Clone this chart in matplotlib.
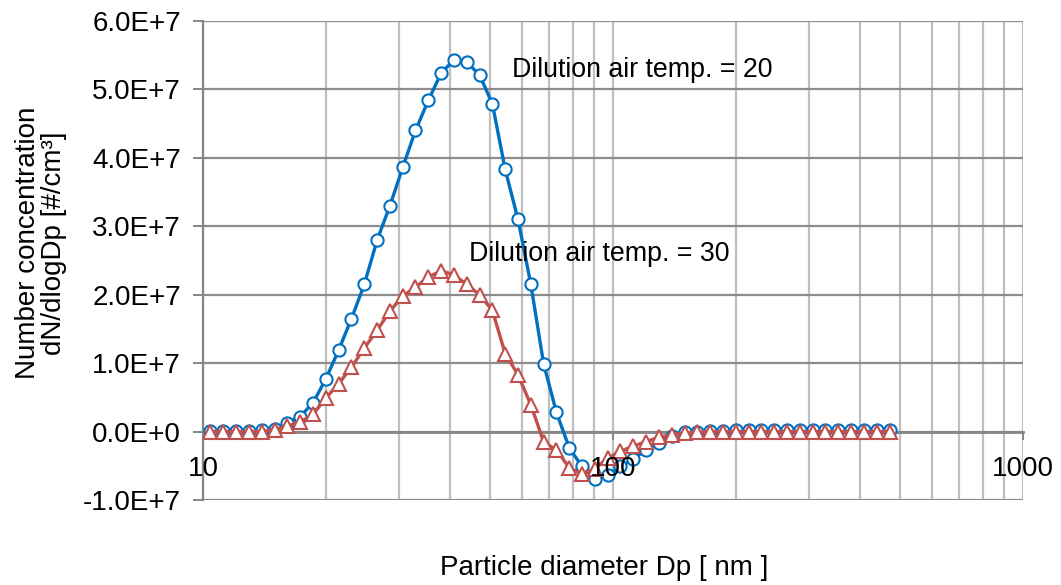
import matplotlib
matplotlib.use("Agg")
import matplotlib.pyplot as plt
import numpy as np
from matplotlib.ticker import FixedLocator, FuncFormatter, NullFormatter, LogLocator

plt.rcParams['font.family'] = ['Liberation Sans', 'DejaVu Sans']

# Particle diameter bins [nm]
diameter_nm = [10.43, 11.21, 12.04, 12.94, 13.91, 14.95, 16.06, 17.26, 18.55, 19.94,
               21.42, 23.02, 24.74, 26.59, 28.57, 30.70, 32.98, 35.45, 38.09, 40.94,
               43.98, 47.27, 50.79, 54.58, 58.66, 63.04, 67.73, 72.79, 78.23, 84.06,
               90.32, 97.07, 104.3, 112.1, 120.4, 129.4, 139.1, 149.5, 160.6, 172.6,
               185.5, 199.4, 214.2, 230.2, 247.4, 265.9, 285.7, 307.0, 329.8, 354.5,
               380.9, 409.4, 439.8, 472.7]

# dN/dlogDp in units of 1e6 #/cm3
conc_20_e6 = [0.05, 0.05, 0.05, 0.05, 0.2, 0.4, 1.3, 2.2, 4.2, 7.7,
              11.9, 16.5, 21.5, 28.0, 33.0, 38.6, 44.0, 48.4, 52.4, 54.3,
              54.0, 52.1, 47.9, 38.3, 31.0, 21.5, 9.9, 2.8, -2.4, -5.1,
              -7.0, -6.3, -5.1, -4.0, -2.7, -1.6, -0.6, -0.1, 0.0, 0.1,
              0.1, 0.2, 0.2, 0.2, 0.2, 0.2, 0.2, 0.2, 0.2, 0.2,
              0.2, 0.2, 0.2, 0.2]
conc_30_e6 = [0.0, 0.0, 0.0, 0.0, 0.0, 0.3, 0.8, 1.4, 2.5, 4.9,
              7.0, 9.4, 12.2, 14.8, 17.6, 19.8, 21.1, 22.6, 23.5, 22.9,
              21.5, 20.0, 17.7, 11.4, 8.3, 3.9, -1.5, -2.7, -5.3, -6.2,
              -5.4, -3.9, -2.9, -2.1, -1.5, -0.8, -0.5, -0.2, -0.1, 0.0,
              0.0, 0.0, 0.0, 0.0, 0.0, 0.0, 0.0, 0.0, 0.0, 0.0,
              0.0, 0.0, 0.0, 0.0]

conc_20 = np.array(conc_20_e6) * 1e6
conc_30 = np.array(conc_30_e6) * 1e6

y_ticks = [-1e7, 0, 1e7, 2e7, 3e7, 4e7, 5e7, 6e7]
x_ticks = [10, 100, 1000]
x_tick_labels = ["10", "100", "1000"]
label_20 = "Dilution air temp. = 20"
label_30 = "Dilution air temp. = 30"

FS = 20

W, H = 1061, 585
fig = plt.figure(figsize=(W / 100, H / 100), dpi=100)
ax = fig.add_axes([203 / W, 1 - 500 / H, (1023 - 203) / W, (500 - 21) / H])
ax.set_xscale('log')
ax.set_xlim(10, 1000)
ax.set_ylim(-1e7, 6e7)

# grid
ax.set_axisbelow(True)
ax.yaxis.set_major_locator(FixedLocator(y_ticks))
ax.yaxis.grid(True, color='#8c8c8c', lw=1.6)
ax.xaxis.set_major_locator(FixedLocator(x_ticks))
ax.xaxis.set_minor_locator(LogLocator(base=10, subs=np.arange(2, 10)))
ax.xaxis.set_minor_formatter(NullFormatter())
ax.xaxis.set_major_formatter(NullFormatter())
ax.xaxis.grid(True, which='both', color='#bfbfbf', lw=1.6)


def yfmt(v, pos):
    if v == 0:
        return "0.0E+0"
    e = int(np.floor(np.log10(abs(v))))
    return f"{v / 10 ** e:.1f}E+{e}"


ax.yaxis.set_major_formatter(FuncFormatter(yfmt))

for s in ['top', 'right']:
    ax.spines[s].set_visible(False)
ax.spines['left'].set_color('#868686')
ax.spines['left'].set_linewidth(1.6)
ax.spines['bottom'].set_position(('data', 0))
ax.spines['bottom'].set_color('#868686')
ax.spines['bottom'].set_linewidth(2.0)
ax.spines['bottom'].set_zorder(2.5)

ax.tick_params(axis='y', which='major', direction='out', length=7, width=1.4,
               color='#868686', labelsize=FS, pad=9)
ax.tick_params(axis='x', which='major', direction='out', length=6, width=1.4,
               color='#868686')
ax.tick_params(axis='x', which='minor', length=0)

ax.plot(diameter_nm, conc_20, color='#0070c0', lw=2.4, marker='o', ms=8.8,
        mfc='white', mec='#0070c0', mew=1.5, zorder=3)
ax.plot(diameter_nm, conc_30, color='#c0504d', lw=2.4, marker='^', ms=10.5,
        mfc='white', mec='#c0504d', mew=1.5, zorder=4)

# x tick labels drawn above the data (as in the reference)
for xv, lab in zip(x_ticks, x_tick_labels):
    ax.annotate(lab, xy=(xv, 0), xycoords='data', xytext=(0, -17.5),
                textcoords='offset points', ha='center', va='top',
                fontsize=FS, zorder=6, annotation_clip=False)

ax.text(56.6, 5.28e7, label_20, fontsize=19.3, ha='left', va='center', zorder=5)
ax.text(44.5, 2.59e7, label_30, fontsize=19.3, ha='left', va='center', zorder=5)

fig.text(604 / W, 1 - 568 / H, "Particle diameter Dp [ nm ]", fontsize=FS,
         ha='center', va='center')
fig.text(41 / W, 1 - 243 / H, "Number concentration\ndN/dlogDp [#/cm³]",
         fontsize=FS, ha='center', va='center', rotation=90, linespacing=1.02,
         multialignment='center')

fig.savefig("out.png", dpi=100)
